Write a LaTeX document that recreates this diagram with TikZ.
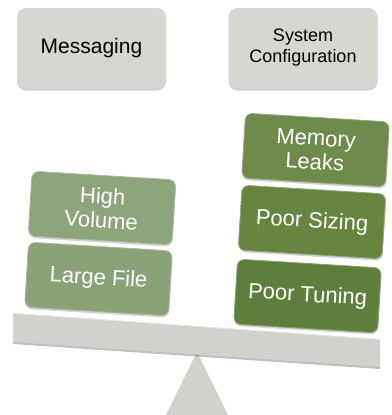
\documentclass[tikz,border=0pt]{standalone}
\usepackage{fontspec}
\setmainfont{Liberation Sans}
\usetikzlibrary{shadows}
\definecolor{boxgray}{HTML}{D5D8D0}
\definecolor{beamgray}{HTML}{D0D3CC}
\definecolor{lightgreen}{HTML}{8BA279}
\definecolor{lightgreenb}{HTML}{8EA47C}
\definecolor{memgreen}{HTML}{6E8B4D}
\definecolor{sizegreen}{HTML}{668541}
\definecolor{tunegreen}{HTML}{5E7F3C}
\tikzset{
  category/.style={draw=none, fill=boxgray, rounded corners=9pt,
    minimum width=149pt, minimum height=80pt, align=center,
    text=black, inner sep=2pt,
    drop shadow={shadow xshift=0pt, shadow yshift=-2.5pt, opacity=0.35}},
  weight/.style={fill=#1, draw=#1!75!white, line width=0.8pt,
    rounded corners=7pt, minimum width=144pt, minimum height=65pt,
    align=center, text=white, font=\fontsize{22}{24}\selectfont,
    rotate=-3.5, inner sep=2pt,
    drop shadow={shadow xshift=0.5pt, shadow yshift=-2pt, opacity=0.35}},
}
\begin{document}
\begin{tikzpicture}[x=1pt, y=-1pt]
\useasboundingbox (0,0) rectangle (391,415);

% category headers
\node[category, font=\fontsize{21}{23}\selectfont] (msg) at (91.5,48) {Messaging};
\node[category, font=\fontsize{18}{21}\selectfont] (sys) at (303,48) {System\\Configuration};

% fulcrum
\fill[beamgray] (197,352) -- (228,415) -- (166,415) -- cycle;

% tilted beam with its shadow
\fill[black, opacity=0.25] (13,344) -- (380,369) -- (380,366) -- (13,341) -- cycle;
\fill[beamgray] (13,313) -- (380,339) -- (380,367) -- (13,342) -- cycle;
\draw[white, opacity=0.5, line width=0.6pt] (13,313.5) -- (380,339.5);

% left pan
\node[weight=lightgreen] (large) at (98.5,279) {Large File};
\node[weight=lightgreenb] (high) at (102,208) {High\\Volume};

% right pan
\node[weight=tunegreen] (tune) at (307.5,296) {Poor Tuning};
\node[weight=sizegreen] (size) at (312,222) {Poor Sizing};
\node[weight=memgreen] (mem) at (315.5,150) {Memory\\Leaks};
\end{tikzpicture}
\end{document}
